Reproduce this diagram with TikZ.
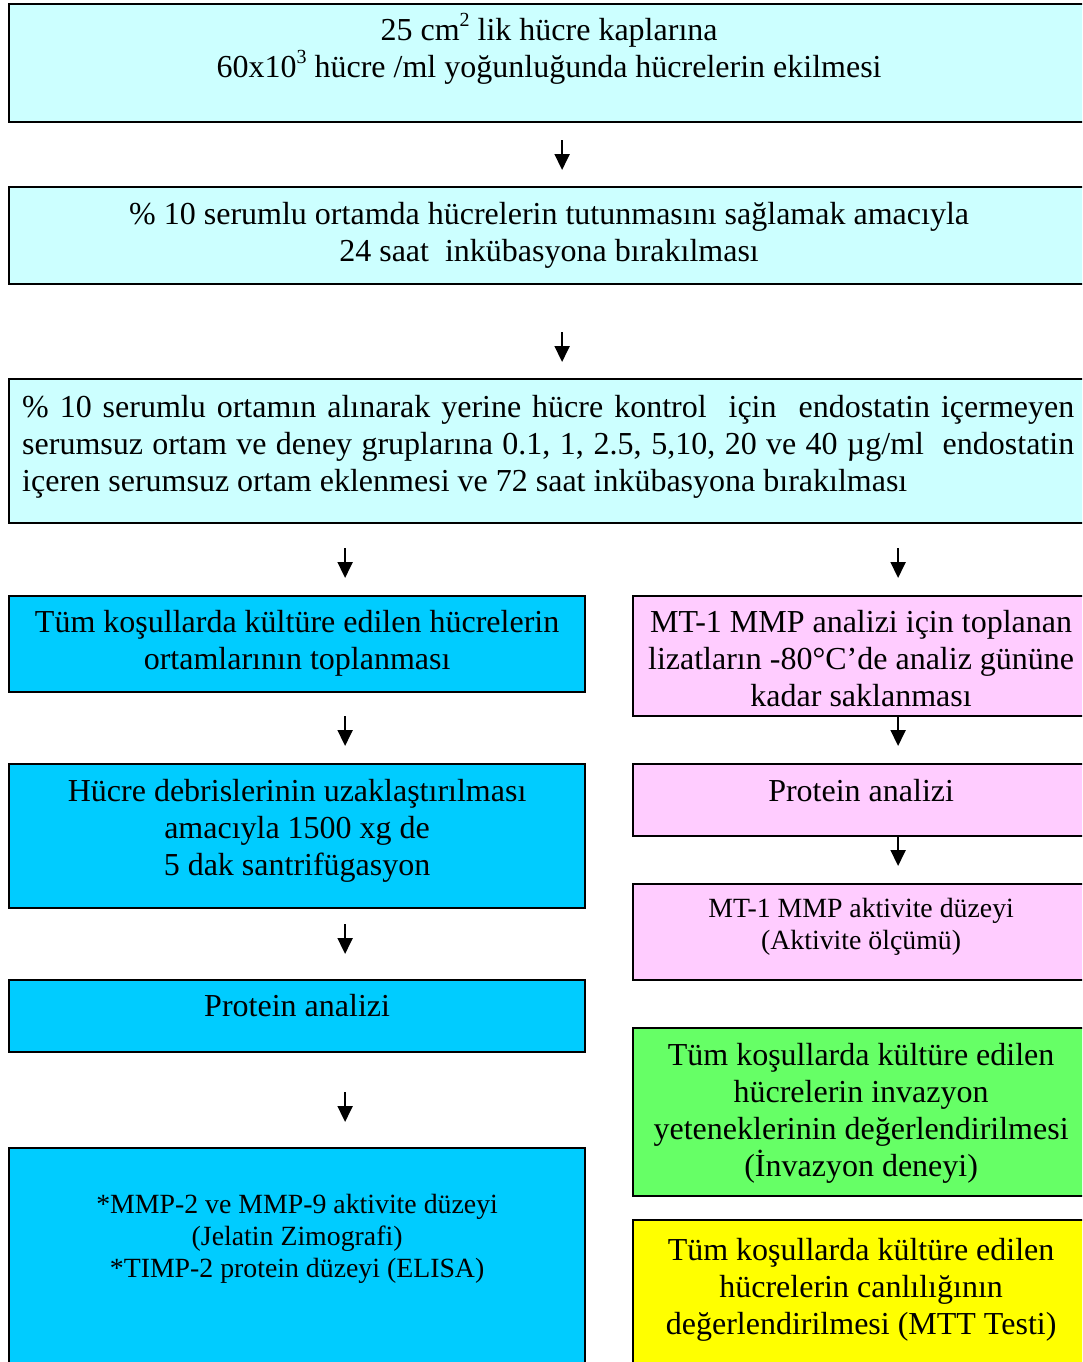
\documentclass[tikz,border=0pt]{standalone}
\usepackage{fontspec}
\setmainfont{Liberation Serif}
\usetikzlibrary{arrows.meta,calc}

\definecolor{paleCyan}{HTML}{CCFFFF}
\definecolor{skyBlue}{HTML}{00CCFF}
\definecolor{palePink}{HTML}{FFCCFF}
\definecolor{limeGreen}{HTML}{66FF66}
\definecolor{brightYellow}{HTML}{FFFF00}

% small raised exponent that does not change the line height
\newcommand{\expo}[1]{\smash{\raisebox{0.42em}{\fontsize{20}{20}\selectfont #1}}}

\tikzset{
  box/.style={draw=black, line width=2.2pt, inner sep=0pt, anchor=north west},
  bigtext/.style={font=\fontsize{32}{37.2}\selectfont, align=center, inner sep=0pt, anchor=north},
  smalltext/.style={font=\fontsize{27.8}{32}\selectfont, align=center, inner sep=0pt, anchor=north},
  flow/.style={line width=2pt, -{Triangle[width=15pt,length=16pt]}}
}

\begin{document}
\begin{tikzpicture}[x=1pt, y=-1pt]
\useasboundingbox (0,0) rectangle (1082,1362);
\clip (0,0) rectangle (1082,1362);

% full-width steps
\node[box, fill=paleCyan, minimum width=1080pt, minimum height=118pt] (b1) at (8,3) {};
\node[box, fill=paleCyan, minimum width=1080pt, minimum height=97pt] (b2) at (8,186) {};
\node[box, fill=paleCyan, minimum width=1080pt, minimum height=144pt] (b3) at (8,378) {};

% left column
\node[box, fill=skyBlue, minimum width=576pt, minimum height=96pt] (la) at (8,595) {};
\node[box, fill=skyBlue, minimum width=576pt, minimum height=144pt] (lb) at (8,763) {};
\node[box, fill=skyBlue, minimum width=576pt, minimum height=72pt] (lc) at (8,979) {};
\node[box, fill=skyBlue, minimum width=576pt, minimum height=240pt] (ld) at (8,1147) {};

% right column
\node[box, fill=palePink, minimum width=456pt, minimum height=120pt] (pa) at (632,595) {};
\node[box, fill=palePink, minimum width=456pt, minimum height=72pt] (pb) at (632,763) {};
\node[box, fill=palePink, minimum width=456pt, minimum height=96pt] (pc) at (632,883) {};
\node[box, fill=limeGreen, minimum width=456pt, minimum height=168pt] (gr) at (632,1027) {};
\node[box, fill=brightYellow, minimum width=456pt, minimum height=180pt] (ye) at (632,1219) {};

% texts
\node[bigtext] (t1) at ([yshift=-11pt]b1.north)
  {\strut 25 cm\expo{2} lik hücre kaplarına\\60x10\expo{3} hücre /ml yoğunluğunda hücrelerin ekilmesi};
\node[bigtext] (t2) at ([yshift=-12pt]b2.north)
  {\strut\% 10 serumlu ortamda hücrelerin tutunmasını sağlamak amacıyla\\24 saat \ inkübasyona bırakılması};
\node[bigtext, align=left, anchor=north west] (t3) at (22,391)
  {\strut\hbox to 1052pt{\% 10 serumlu ortamın alınarak yerine hücre kontrol \ için \ endostatin içermeyen}\\
   \hbox to 1052pt{serumsuz ortam ve deney gruplarına 0.1, 1, 2.5, 5,10, 20 ve 40 µg/ml \ endostatin}\\
   içeren serumsuz ortam eklenmesi ve 72 saat inkübasyona bırakılması};

\node[bigtext] (tla) at ([yshift=-11pt]la.north)
  {\strut Tüm koşullarda kültüre edilen hücrelerin\\ortamlarının toplanması};
\node[bigtext] (tlb) at ([yshift=-12pt]lb.north)
  {\strut Hücre debrislerinin uzaklaştırılması\\amacıyla 1500 xg de\\5 dak santrifügasyon};
\node[bigtext] (tlc) at ([yshift=-11pt]lc.north) {\strut Protein analizi};
\node[smalltext] (tld) at ([yshift=-44pt]ld.north)
  {\strut *MMP-2 ve MMP-9 aktivite düzeyi\\(Jelatin Zimografi)\\*TIMP-2 protein düzeyi (ELISA)};

\node[bigtext] (tpa) at ([yshift=-11pt]pa.north)
  {\strut MT-1 MMP analizi için toplanan\\lizatların -80°C’de analiz gününe\\kadar saklanması};
\node[bigtext] (tpb) at ([yshift=-12pt]pb.north) {\strut Protein analizi};
\node[smalltext] (tpc) at ([yshift=-12pt]pc.north)
  {\strut MT-1 MMP aktivite düzeyi\\(Aktivite ölçümü)};
\node[bigtext] (tgr) at ([yshift=-12pt]gr.north)
  {\strut Tüm koşullarda kültüre edilen\\hücrelerin invazyon\\yeteneklerinin değerlendirilmesi\\(İnvazyon deneyi)};
\node[bigtext] (tye) at ([yshift=-15pt]ye.north)
  {\strut Tüm koşullarda kültüre edilen\\hücrelerin canlılığının\\değerlendirilmesi (MTT Testi)};

% arrows between steps
\draw[flow, shorten <=17pt, shorten >=16pt] ([xshift=13pt]b1.south) -- ([xshift=13pt]b2.north);
\draw[flow, shorten <=47pt, shorten >=16pt] ([xshift=13pt]b2.south) -- ([xshift=13pt]b3.north);
\draw[flow, shorten <=24pt, shorten >=17pt] ($(la.north |- b3.south)+(48,0)$) -- ([xshift=48pt]la.north);
\draw[flow, shorten <=24pt, shorten >=17pt] ($(pa.north |- b3.south)+(37,0)$) -- ([xshift=37pt]pa.north);
\draw[flow, shorten <=23pt, shorten >=17pt] ([xshift=48pt]la.south) -- ([xshift=48pt]lb.north);
\draw[flow, shorten <=15pt, shorten >=25pt] ([xshift=48pt]lb.south) -- ([xshift=48pt]lc.north);
\draw[flow, shorten <=39pt, shorten >=25pt] ([xshift=48pt]lc.south) -- ([xshift=48pt]ld.north);
\draw[flow, shorten >=17pt] ([xshift=37pt]pa.south) -- ([xshift=37pt]pb.north);
\draw[flow, shorten >=17pt] ([xshift=37pt]pb.south) -- ([xshift=37pt]pc.north);
\end{tikzpicture}
\end{document}
